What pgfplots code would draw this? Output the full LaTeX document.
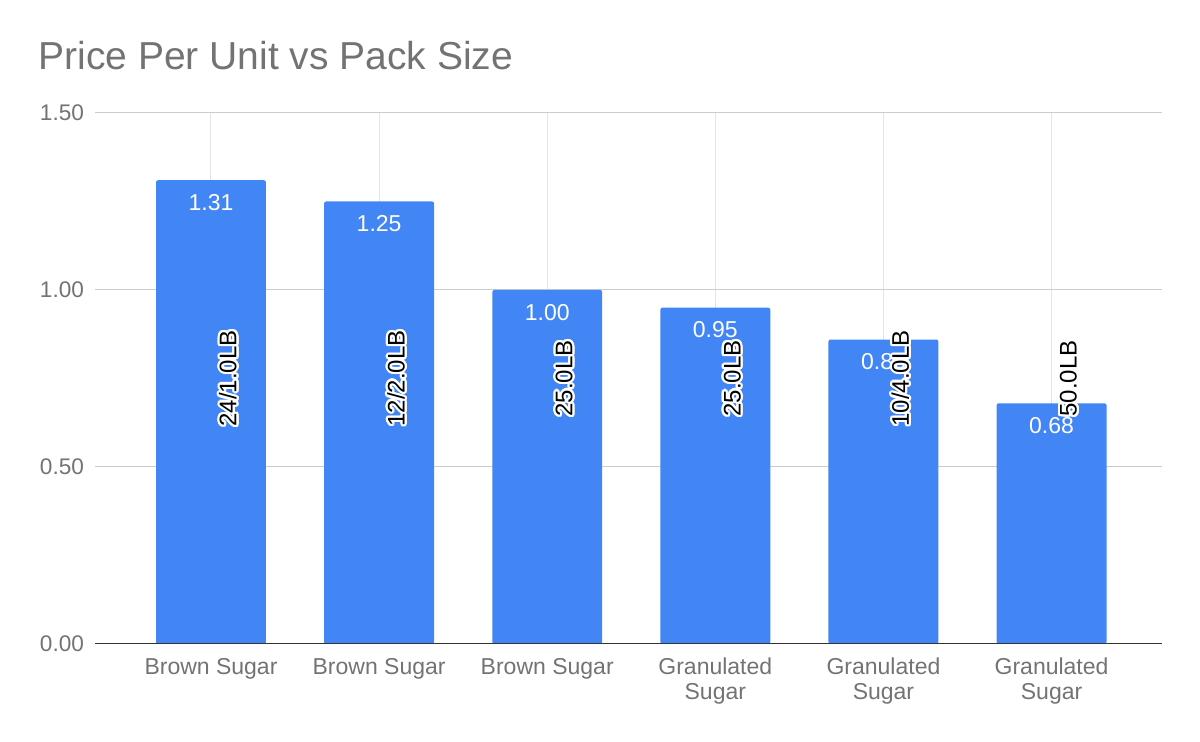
\documentclass[border=0pt]{standalone}
\usepackage{fontspec}
\setmainfont{Liberation Sans}
\usepackage{pgfplots}
\pgfplotsset{compat=1.18}
\usepackage{contour}
\contourlength{1.1pt}
\definecolor{barblue}{HTML}{4285F4}
\definecolor{txtgray}{HTML}{737373}
\definecolor{gridgray}{HTML}{CCCCCC}
\definecolor{vgridgray}{HTML}{E3E3E3}
\definecolor{zeroline}{HTML}{333333}

\begin{document}
\begin{tikzpicture}
\useasboundingbox (-47.5pt,-49pt) rectangle (552.5pt,322pt);
\begin{axis}[
  scale only axis,
  width=533.5pt, height=265.5pt,
  xmin=-0.69, xmax=5.657,
  ymin=0, ymax=1.5,
  axis line style={draw=none},
  major tick length=0pt,
  xtick={0,1,2,3,4,5},
  xticklabels={Brown Sugar,Brown Sugar,Brown Sugar,Granulated\\Sugar,Granulated\\Sugar,Granulated\\Sugar},
  xticklabel style={align=center, font=\fontsize{11.5}{12.5}\selectfont, text=txtgray, yshift=-3.5pt},
  ytick={0,0.5,1,1.5},
  yticklabels={0.00,0.50,1.00,1.50},
  yticklabel style={font=\fontsize{11.3}{13}\selectfont, text=txtgray, anchor=east, xshift=-2pt},
  ymajorgrids, xmajorgrids,
  y grid style={gridgray, line width=0.5pt},
  x grid style={vgridgray, line width=0.5pt},
]
% value per unit
\addplot[ybar, bar width=0.654, bar shift=0pt, fill=barblue, draw=none, rounded corners=1pt,
  nodes near coords={\pgfmathprintnumber[fixed,fixed zerofill,precision=2,assume math mode=true]{\pgfplotspointmeta}},
  every node near coord/.append style={anchor=north, yshift=-3.5pt, text=white, font=\fontsize{11.5}{13}\selectfont}]
  coordinates {(0,1.31) (1,1.25) (2,1.00) (3,0.95) (4,0.86) (5,0.68)};
% pack size labels
\addplot[draw=none, mark=none, point meta=explicit symbolic,
  nodes near coords={\contour{white}{\pgfplotspointmeta}},
  every node near coord/.append style={anchor=center, xshift=9pt, rotate=90, text=black, font=\fontsize{12}{13}\selectfont}]
  table[meta=lbl] {
x y lbl
0 0.75 24/1.0LB
1 0.75 12/2.0LB
2 0.75 25.0LB
3 0.75 25.0LB
4 0.75 10/4.0LB
5 0.75 50.0LB
};
% baseline
\draw[zeroline, line width=1pt] (rel axis cs:0,0) -- (rel axis cs:1,0);
\end{axis}
\node[anchor=base west, text=txtgray, font=\fontsize{19.5}{22}\selectfont, inner sep=0pt] at (-28.5pt,287pt) {Price Per Unit vs Pack Size};
\end{tikzpicture}
\end{document}
